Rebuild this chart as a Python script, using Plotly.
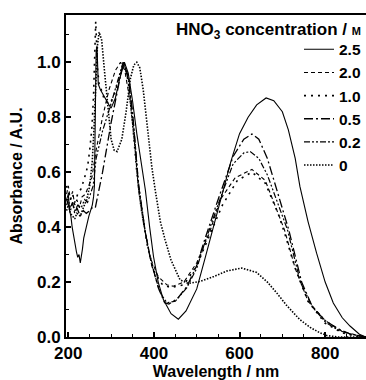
import plotly.graph_objects as go

# ---- data ----
wl_25 = [196, 200, 203, 206, 209, 212, 216, 219, 222, 225, 228, 230, 233, 236, 240, 244, 248, 252, 256, 259, 261, 263, 265, 267, 270, 275, 285, 295, 300, 310, 320, 331, 340, 350, 360, 370, 380, 390, 399, 410, 422, 440, 457, 475, 500, 520, 540, 560, 580, 600, 620, 640, 662, 680, 700, 714, 730, 741, 760, 780, 800, 819, 840, 858, 880, 895]
ab_25 = [0.50, 0.52, 0.46, 0.44, 0.40, 0.37, 0.33, 0.31, 0.29, 0.30, 0.27, 0.30, 0.32, 0.36, 0.39, 0.42, 0.44, 0.46, 0.48, 0.51, 0.55, 0.80, 1.04, 1.06, 0.92, 0.90, 0.87, 0.845, 0.833, 0.87, 0.94, 1.00, 0.96, 0.86, 0.74, 0.63, 0.535, 0.40, 0.293, 0.20, 0.136, 0.085, 0.065, 0.095, 0.175, 0.29, 0.41, 0.53, 0.64, 0.74, 0.80, 0.845, 0.870, 0.86, 0.82, 0.754, 0.65, 0.548, 0.42, 0.305, 0.20, 0.124, 0.07, 0.04, 0.01, 0.0]

wl_20 = [196, 200, 205, 210, 215, 220, 226, 232, 240, 248, 255, 265, 280, 295, 310, 322, 332, 345, 355, 364, 375, 391, 410, 430, 445, 470, 500, 530, 555, 590, 629, 660, 690, 705, 730, 760, 800, 840, 880, 895]
ab_20 = [0.52, 0.55, 0.50, 0.53, 0.48, 0.50, 0.47, 0.51, 0.52, 0.55, 0.58, 0.68, 0.80, 0.90, 0.97, 1.00, 0.97, 0.85, 0.70, 0.535, 0.42, 0.29, 0.22, 0.19, 0.185, 0.20, 0.27, 0.38, 0.50, 0.58, 0.61, 0.57, 0.45, 0.39, 0.25, 0.13, 0.06, 0.02, 0.005, 0.0]

wl_10 = [196, 200, 205, 210, 215, 222, 230, 238, 245, 250, 255, 259, 262, 264, 266, 268, 272, 277, 285, 295, 305, 320, 330, 340, 350, 360, 370, 385, 400, 420, 440, 470, 500, 530, 560, 595, 629, 660, 690, 705, 730, 760, 800, 840, 870, 895]
ab_10 = [0.55, 0.53, 0.50, 0.52, 0.49, 0.52, 0.54, 0.58, 0.62, 0.68, 0.76, 0.88, 1.02, 1.148, 1.07, 0.98, 0.92, 0.90, 0.86, 0.85, 0.87, 0.95, 1.00, 0.93, 0.78, 0.60, 0.47, 0.33, 0.24, 0.19, 0.18, 0.19, 0.26, 0.37, 0.48, 0.57, 0.60, 0.56, 0.45, 0.38, 0.25, 0.13, 0.05, 0.015, 0.003, 0.0]

wl_05 = [196, 200, 205, 210, 215, 220, 228, 235, 242, 250, 256, 263, 280, 300, 315, 328, 340, 350, 364, 380, 391, 410, 425, 435, 455, 477, 500, 516, 547, 585, 610, 629, 645, 665, 690, 715, 745, 770, 800, 830, 860, 895]
ab_05 = [0.50, 0.48, 0.46, 0.49, 0.45, 0.47, 0.44, 0.46, 0.45, 0.46, 0.47, 0.47, 0.60, 0.78, 0.90, 1.00, 0.95, 0.82, 0.55, 0.38, 0.29, 0.18, 0.125, 0.12, 0.14, 0.184, 0.26, 0.342, 0.487, 0.657, 0.72, 0.739, 0.72, 0.65, 0.52, 0.39, 0.20, 0.11, 0.06, 0.03, 0.01, 0.0]

wl_02 = [196, 200, 205, 210, 215, 222, 230, 238, 245, 252, 258, 265, 280, 300, 315, 328, 340, 352, 364, 380, 395, 415, 430, 450, 477, 500, 516, 547, 585, 610, 625, 645, 665, 690, 712, 742, 770, 800, 830, 860, 895]
ab_02 = [0.48, 0.50, 0.47, 0.49, 0.46, 0.48, 0.47, 0.50, 0.49, 0.52, 0.55, 0.65, 0.75, 0.85, 0.93, 1.00, 0.94, 0.78, 0.56, 0.38, 0.26, 0.16, 0.125, 0.13, 0.18, 0.25, 0.33, 0.47, 0.63, 0.67, 0.675, 0.65, 0.59, 0.48, 0.39, 0.20, 0.11, 0.055, 0.025, 0.01, 0.0]

wl_00 = [196, 200, 205, 210, 215, 220, 228, 235, 243, 250, 256, 260, 264, 268, 272, 278, 285, 293, 300, 307, 314, 325, 335, 345, 353, 360, 367, 375, 385, 395, 403, 415, 426, 440, 461, 480, 508, 540, 570, 605, 640, 665, 687, 710, 741, 765, 788, 805, 830, 895]
ab_00 = [0.46, 0.48, 0.45, 0.44, 0.43, 0.45, 0.44, 0.47, 0.50, 0.55, 0.64, 0.76, 0.92, 1.06, 1.11, 1.08, 0.96, 0.82, 0.72, 0.68, 0.675, 0.72, 0.82, 0.94, 0.99, 1.00, 0.98, 0.90, 0.76, 0.62, 0.535, 0.42, 0.354, 0.28, 0.208, 0.195, 0.202, 0.22, 0.24, 0.251, 0.235, 0.20, 0.16, 0.115, 0.063, 0.035, 0.015, 0.005, 0.0, 0.0]

series_names = ["2.5", "2.0", "1.0", "0.5", "0.2", "0"]
series_x = [wl_25, wl_20, wl_10, wl_05, wl_02, wl_00]
series_y = [ab_25, ab_20, ab_10, ab_05, ab_02, ab_00]
series_dash = ["solid", "4px,3px", "2px,5px", "9px,3px,2px,3px", "6px,2px,2px,2px,2px,2px", "1.5px,1.5px"]
series_width = [1.1, 1.1, 1.6, 1.3, 1.2, 1.6]

x_ticks = [200, 400, 600, 800]
y_ticks = [0.0, 0.2, 0.4, 0.6, 0.8, 1.0]

fig = go.Figure()
for name, xs, ys, dash, w in zip(series_names, series_x, series_y, series_dash, series_width):
    fig.add_trace(go.Scatter(x=xs, y=ys, mode="lines", name=name,
                             line=dict(color="black", width=w, dash=dash)))

FONT = "Liberation Sans, Arial, sans-serif"

fig.update_layout(
    width=366, height=380,
    margin=dict(l=66, r=0, t=15, b=43),
    paper_bgcolor="white", plot_bgcolor="white",
    font=dict(family=FONT, color="black", size=16),
    showlegend=True,
    legend=dict(x=1.0, xanchor="right", y=0.945, yanchor="top",
                bgcolor="rgba(0,0,0,0)", borderwidth=0,
                font=dict(family=FONT, size=15.5, color="black", weight="bold"),
                itemwidth=30, tracegroupgap=0),
    xaxis=dict(range=[194.6, 895.4], tickvals=x_ticks, ticktext=[str(v) for v in x_ticks],
               ticks="inside", ticklen=5, tickwidth=1.5, tickcolor="black",
               minor=dict(dtick=50, tick0=200, ticks="inside", ticklen=3, tickwidth=1.2, tickcolor="black"),
               showline=True, linewidth=2, linecolor="black", mirror=True,
               showgrid=False, zeroline=False,
               tickfont=dict(family=FONT, size=17, color="black", weight="bold"),
               title=dict(text="Wavelength / nm", standoff=3,
                          font=dict(family=FONT, size=16, color="black", weight="bold"))),
    yaxis=dict(range=[0, 1.172], tickvals=y_ticks, ticktext=[f"{v:.1f}" for v in y_ticks],
               ticks="inside", ticklen=5, tickwidth=1.5, tickcolor="black",
               minor=dict(dtick=0.1, tick0=0, ticks="inside", ticklen=3, tickwidth=1.2, tickcolor="black"),
               showline=True, linewidth=2, linecolor="black", mirror=False,
               showgrid=False, zeroline=False,
               tickfont=dict(family=FONT, size=17, color="black", weight="bold"),
               title=dict(text="Absorbance / A.U.", standoff=10,
                          font=dict(family=FONT, size=16, color="black", weight="bold"))),
    annotations=[dict(text="HNO<sub>3</sub> concentration / <span style='font-size:11px'>M</span>",
                      xref="paper", yref="paper", x=0.99, y=0.99, xanchor="right", yanchor="top",
                      showarrow=False,
                      font=dict(family=FONT, size=17, color="black", weight="bold"))],
)

fig.write_html("out.html")
